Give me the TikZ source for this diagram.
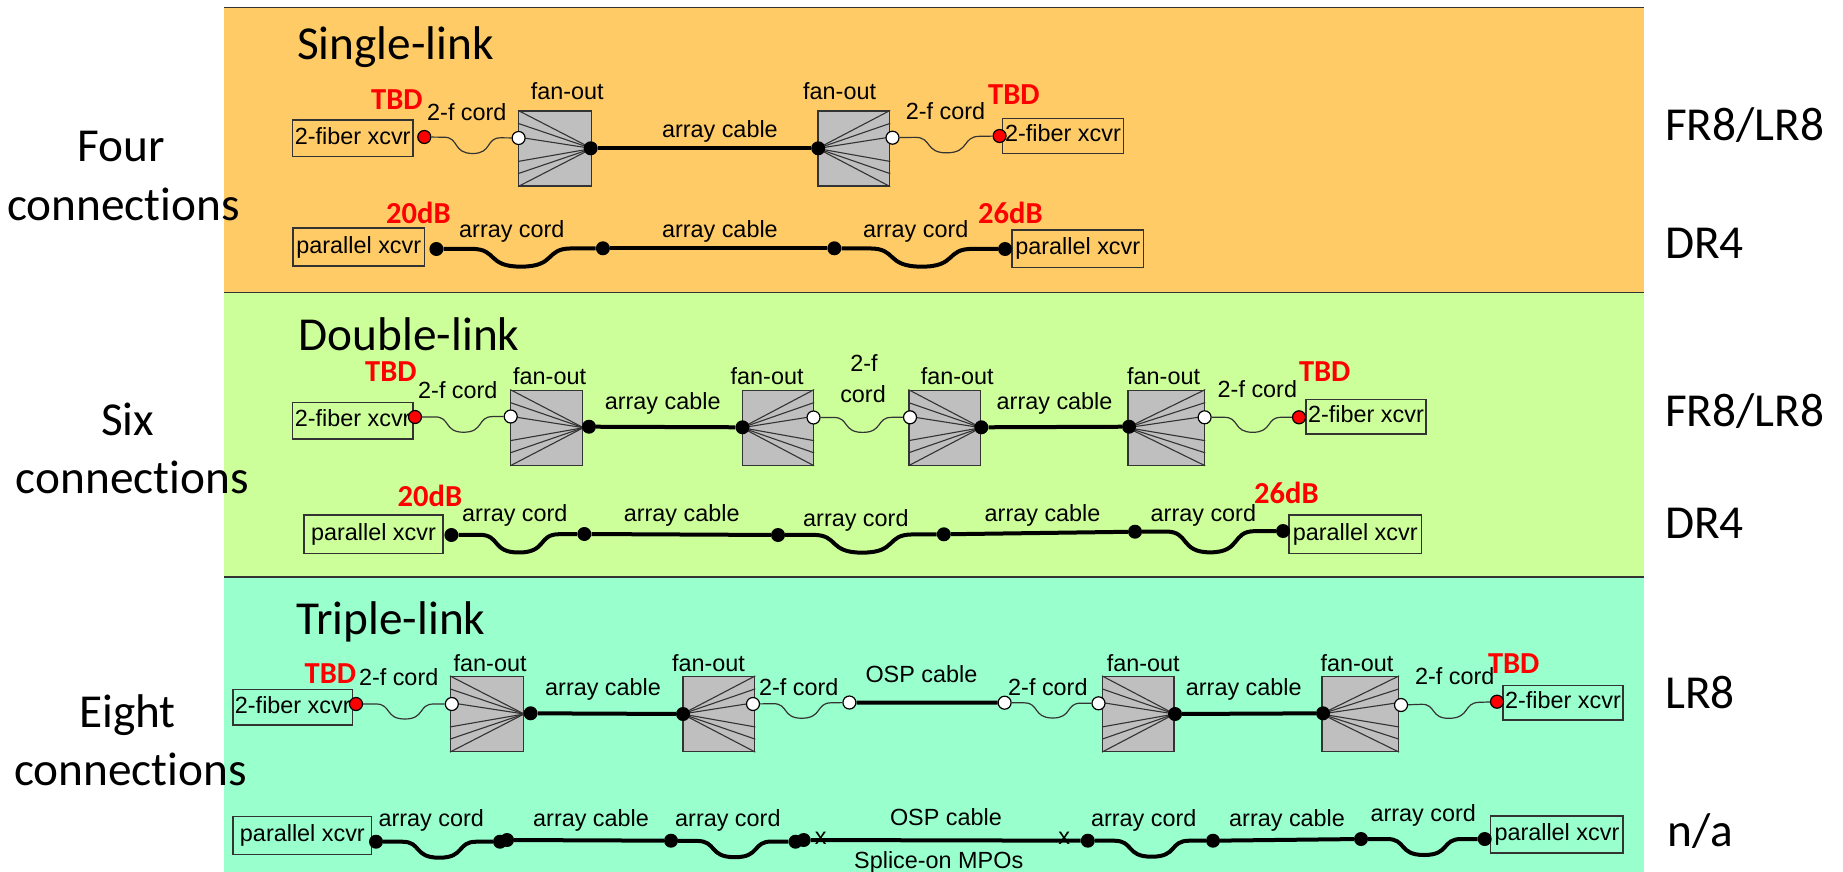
\documentclass[tikz,border=0pt]{standalone}
\usepackage{fontspec}
\setmainfont{Liberation Sans}
\newfontfamily\calib[Ligatures=NoCommon]{Carlito}
\usetikzlibrary{calc}
\definecolor{panelor}{HTML}{FFCB66}
\definecolor{panelgr}{HTML}{CCFF99}
\definecolor{panelte}{HTML}{99FFCC}
\definecolor{edgegrey}{HTML}{333333}
\definecolor{fangrey}{HTML}{BFBFBF}
\newcommand{\spokesE}[1]{\foreach \f in {0,.17,.35,.67,.83,1}
  \draw[spoke] ($(#1.north west)!\f!(#1.south west)$) -- (#1.east);}
\newcommand{\spokesW}[1]{\foreach \f in {0,.17,.35,.67,.83,1}
  \draw[spoke] ($(#1.north east)!\f!(#1.south east)$) -- (#1.west);}
\newcommand{\dipcord}[4][fibre]{\draw[#1] (#2) -- ($(#2)!.21!(#3)$)
  .. controls ($(#2)!.37!(#3)$) and ($(#2)!.30!(#3)+(0,#4)$) .. ($(#2)!.51!(#3)+(0,#4)$)
  .. controls ($(#2)!.72!(#3)+(0,#4)$) and ($(#2)!.65!(#3)$) .. ($(#2)!.81!(#3)$) -- (#3);}

\begin{document}
\begin{tikzpicture}[
  x=1pt, y=-1pt,
  big/.style={font=\calib\fontsize{47.3}{56}\selectfont, inner sep=0pt, anchor=base west},
  lbl/.style={font=\fontsize{23.4}{28}\selectfont, inner sep=0pt, anchor=base west},
  red/.style={font=\calib\bfseries\fontsize{30.5}{36}\selectfont, text=red, inner sep=0pt, anchor=base west},
  xcvr/.style={draw=edgegrey, line width=1.2pt, inner sep=0pt, font=\fontsize{23.4}{28}\selectfont,
               text height=17pt, text depth=5pt},
  fanbox/.style={draw=edgegrey, line width=1.2pt, fill=fangrey, minimum height=75pt, inner sep=0pt},
  spoke/.style={edgegrey, line width=1.1pt},
  bdot/.style={circle, fill=black, minimum size=14pt, inner sep=0pt},
  wdot/.style={circle, draw=black, line width=1.2pt, fill=white, minimum size=13pt, inner sep=0pt},
  rdot/.style={circle, draw=black, line width=1.2pt, fill=red, minimum size=13pt, inner sep=0pt},
  fibre/.style={edgegrey, line width=1.2pt},
  cable/.style={black, line width=4pt},
]
\useasboundingbox (0,0) rectangle (1843,872);

%% ---- Panels ----
\fill[panelor] (224,8) rectangle (1644,292);
\fill[panelgr] (224,292) rectangle (1644,577);
\fill[panelte] (224,577) rectangle (1644,872);
\draw[edgegrey, line width=1.5pt] (224,7.5) -- (1644,7.5);
\draw[edgegrey, line width=1.5pt] (224,292.5) -- (1644,292.5);
\draw[edgegrey, line width=1.5pt] (224,577) -- (1644,577);

%% ---- Left and right columns ----
\node[big] (four) at (77,161.7) {Four};
\node[big] (fourc) at (7,220) {connections};
\node[big] (six) at (101,435) {Six};
\node[big] (sixc) at (15.7,493) {connections};
\node[big] (eight) at (79,727) {Eight};
\node[big] (eightc) at (14,785) {connections};
\node[big] (sFR) at (1665,140) {FR8/LR8};
\node[big] (sDR) at (1665,258.3) {DR4};
\node[big] (dFR) at (1665,426) {FR8/LR8};
\node[big] (dDR) at (1665,538) {DR4};
\node[big] (tLR) at (1665,708) {LR8};
\node[big] (tNA) at (1667.7,846.7) {n/a};

%% ---- Single-link ----
\node[big] (sTitle) at (297,60) {Single-link};
\node[xcvr, minimum width=120.4pt, minimum height=36.7pt] (sAxL) at (352.7,138.3) {2-fiber xcvr};
\node[xcvr, minimum width=121.1pt, minimum height=35pt] (sAxR) at (1063,135.8) {2-fiber xcvr};
\node[fanbox, minimum width=72.8pt] (sAf1) at (555,148.5) {};
\node[fanbox, minimum width=71.6pt] (sAf2) at (853.8,148.5) {};
\spokesE{sAf1} \spokesW{sAf2}
\node[rdot] (sAr1) at (424.3,137) {};
\node[wdot] (sAw1) at (518.6,138) {};
\node[bdot] (sAb1) at (590.7,148.3) {};
\node[bdot] (sAb2) at (818.2,148.3) {};
\node[wdot] (sAw2) at (892.5,137.7) {};
\node[rdot] (sAr2) at (999.6,136) {};
\dipcord{sAr1}{sAw1}{16}
\draw[cable] (sAb1) -- (sAb2);
\dipcord{sAw2}{sAr2}{16}
\node[red] (sAt1) at (371,109.3) {TBD};
\node[red] (sAt2) at (988,105) {TBD};
\node[lbl] (sAc1) at (427,120.7) {2-f cord};
\node[lbl] (sAo1) at (530.7,100) {fan-out};
\node[lbl] (sAa1) at (661.8,137) {array cable};
\node[lbl] (sAo2) at (803,100) {fan-out};
\node[lbl] (sAc2) at (905.7,120) {2-f cord};

\node[xcvr, minimum width=131.6pt, minimum height=38pt] (sBxL) at (358.8,247) {parallel xcvr};
\node[xcvr, minimum width=131.6pt, minimum height=37.7pt] (sBxR) at (1077.8,248.8) {parallel xcvr};
\node[bdot] (sBb1) at (436.4,249) {};
\node[bdot] (sBb2) at (602.9,248.3) {};
\node[bdot] (sBb3) at (834.3,248.3) {};
\node[bdot] (sBb4) at (1005,249) {};
\dipcord[cable]{sBb1}{sBb2}{18}
\draw[cable] (sBb2) -- (sBb3);
\dipcord[cable]{sBb3}{sBb4}{18}
\node[red] (sBt1) at (386,223) {20dB};
\node[red] (sBt2) at (978,223) {26dB};
\node[lbl] (sBc1) at (459,237) {array cord};
\node[lbl] (sBa1) at (661.8,237) {array cable};
\node[lbl] (sBc2) at (862.9,237) {array cord};

%% ---- Double-link ----
\node[big] (dTitle) at (298.6,350) {Double-link};
\node[xcvr, minimum width=120.4pt, minimum height=36.3pt] (dAxL) at (352.7,420.8) {2-fiber xcvr};
\node[xcvr, minimum width=120pt, minimum height=34.7pt] (dAxR) at (1366,416.7) {2-fiber xcvr};
\node[fanbox, minimum width=72pt] (dAf1) at (546.8,427.7) {};
\node[fanbox, minimum width=71pt] (dAf2) at (778,427.7) {};
\node[fanbox, minimum width=71.4pt] (dAf3) at (944.7,427.7) {};
\node[fanbox, minimum width=76.6pt] (dAf4) at (1166.3,427.7) {};
\spokesE{dAf1} \spokesW{dAf2} \spokesE{dAf3} \spokesW{dAf4}
\node[rdot] (dAr1) at (415,417) {};
\node[wdot] (dAw1) at (510.7,416.5) {};
\node[bdot] (dAb1) at (589,426.7) {};
\node[bdot] (dAb2) at (742.5,427.3) {};
\node[wdot] (dAw2) at (813.5,417.5) {};
\node[wdot] (dAw3) at (910,417.3) {};
\node[bdot] (dAb3) at (981.3,427.3) {};
\node[bdot] (dAb4) at (1129,426.7) {};
\node[wdot] (dAw4) at (1204.6,417.3) {};
\node[rdot] (dAr2) at (1299,417.3) {};
\dipcord{dAr1}{dAw1}{15.5}
\draw[cable] (dAb1) -- (dAb2);
\dipcord{dAw2}{dAw3}{15}
\draw[cable] (dAb3) -- (dAb4);
\dipcord{dAw4}{dAr2}{15}
\node[red] (dAt1) at (365,381.7) {TBD};
\node[red] (dAt2) at (1298.8,381.7) {TBD};
\node[lbl] (dAc1) at (418,398.3) {2-f cord};
\node[lbl] (dAo1) at (513,384.3) {fan-out};
\node[lbl] (dAa1) at (604.6,409.3) {array cable};
\node[lbl] (dAo2) at (730.5,384.3) {fan-out};
\node[lbl, anchor=base] (dAc2) at (864,371.7) {2-f};
\node[lbl, anchor=base] (dAc3) at (863,402.7) {cord};
\node[lbl] (dAo3) at (920.6,384.3) {fan-out};
\node[lbl] (dAa2) at (996.5,409.3) {array cable};
\node[lbl] (dAo4) at (1127,384.3) {fan-out};
\node[lbl] (dAc4) at (1217.5,397.3) {2-f cord};

\node[xcvr, minimum width=139pt, minimum height=38.3pt] (dBxL) at (373.5,534.2) {parallel xcvr};
\node[xcvr, minimum width=132.5pt, minimum height=38.3pt] (dBxR) at (1355.2,534.2) {parallel xcvr};
\node[bdot] (dBb1) at (451.4,535) {};
\node[bdot] (dBb2) at (584.3,534) {};
\node[bdot] (dBb3) at (778,535) {};
\node[bdot] (dBb4) at (943.8,534.3) {};
\node[bdot] (dBb5) at (1135,531.7) {};
\node[bdot] (dBb6) at (1283,531) {};
\dipcord[cable]{dBb1}{dBb2}{18}
\draw[cable] (dBb2) -- (dBb3);
\dipcord[cable]{dBb3}{dBb4}{18}
\draw[cable] (dBb4) -- (dBb5);
\dipcord[cable]{dBb5}{dBb6}{21}
\node[red] (dBt1) at (397.5,506.7) {20dB};
\node[red] (dBt2) at (1254,503.3) {26dB};
\node[lbl] (dBc1) at (462,521.7) {array cord};
\node[lbl] (dBa1) at (623.6,521.7) {array cable};
\node[lbl] (dBc2) at (803,526.7) {array cord};
\node[lbl] (dBa2) at (984.5,521.7) {array cable};
\node[lbl] (dBc3) at (1150.5,521.7) {array cord};

%% ---- Triple-link ----
\node[big] (tTitle) at (296,634) {Triple-link};
\node[xcvr, minimum width=119.7pt, minimum height=35.7pt] (tAxL) at (292.8,707.2) {2-fiber xcvr};
\node[xcvr, minimum width=120pt, minimum height=34.3pt] (tAxR) at (1563,702.8) {2-fiber xcvr};
\node[fanbox, minimum width=73pt] (tAf1) at (487,714) {};
\node[fanbox, minimum width=71.8pt] (tAf2) at (718.8,714) {};
\node[fanbox, minimum width=71.4pt] (tAf3) at (1138.3,714) {};
\node[fanbox, minimum width=76.5pt] (tAf4) at (1360.2,714) {};
\spokesE{tAf1} \spokesW{tAf2} \spokesE{tAf3} \spokesW{tAf4}
\node[rdot] (tAr1) at (356,704) {};
\node[wdot] (tAw1) at (451.8,704) {};
\node[bdot] (tAb1) at (530.6,713.3) {};
\node[bdot] (tAb2) at (683,714) {};
\node[wdot] (tAw2) at (753,704) {};
\node[wdot] (tAw3) at (849.4,702.5) {};
\node[wdot] (tAw4) at (1004.6,702.7) {};
\node[wdot] (tAw5) at (1098.5,703.3) {};
\node[bdot] (tAb3) at (1175,714) {};
\node[bdot] (tAb4) at (1323,713.3) {};
\node[wdot] (tAw6) at (1401,705) {};
\node[rdot] (tAr2) at (1497,701.7) {};
\dipcord{tAr1}{tAw1}{15}
\draw[cable] (tAb1) -- (tAb2);
\dipcord{tAw2}{tAw3}{15}
\draw[cable] (tAw3) -- (tAw4);
\dipcord{tAw4}{tAw5}{15}
\draw[cable] (tAb3) -- (tAb4);
\dipcord{tAw6}{tAr2}{15}
\node[red] (tAt1) at (304.5,683.3) {TBD};
\node[red] (tAt2) at (1487.8,673) {TBD};
\node[lbl] (tAc1) at (358.8,685) {2-f cord};
\node[lbl] (tAo1) at (453.5,671) {fan-out};
\node[lbl] (tAa1) at (545,695) {array cable};
\node[lbl] (tAo2) at (671.8,671) {fan-out};
\node[lbl] (tAc2) at (758.8,695) {2-f cord};
\node[lbl] (tAp1) at (865.3,682.7) {OSP cable};
\node[lbl] (tAc3) at (1008,695) {2-f cord};
\node[lbl] (tAo3) at (1106.6,671) {fan-out};
\node[lbl] (tAa2) at (1185.7,695) {array cable};
\node[lbl] (tAo4) at (1320.4,671) {fan-out};
\node[lbl] (tAc4) at (1414.8,684) {2-f cord};

\node[xcvr, minimum width=138.8pt, minimum height=37.6pt] (tBxL) at (302.4,835.5) {parallel xcvr};
\node[xcvr, minimum width=132.2pt, minimum height=37pt] (tBxR) at (1556.9,834.5) {parallel xcvr};
\node[bdot] (tBb1) at (376,841.7) {};
\node[bdot] (tBb2) at (500,841.7) {};
\node[bdot] (tBb3) at (507,840) {};
\node[bdot] (tBb4) at (671,840.7) {};
\node[bdot] (tBb5) at (795.5,841.7) {};
\node[bdot] (tBb6) at (803.7,840) {};
\node[bdot] (tBb7) at (1087.8,840.7) {};
\node[bdot] (tBb8) at (1213,840.7) {};
\node[bdot] (tBb9) at (1361,839) {};
\node[bdot] (tBb10) at (1484.7,839) {};
\dipcord[cable]{tBb1}{tBb2}{16}
\draw[cable] (tBb3) -- (tBb4);
\dipcord[cable]{tBb4}{tBb5}{16}
\draw[cable] (tBb6) -- (tBb7);
\dipcord[cable]{tBb7}{tBb8}{16}
\draw[cable] (tBb8) -- (tBb9);
\dipcord[cable]{tBb9}{tBb10}{16}
\node[lbl, anchor=center] (tBx1) at (820.8,838) {x};
\node[lbl, anchor=center] (tBx2) at (1064.3,838) {x};
\node[lbl] (tBc1) at (378.4,826.7) {array cord};
\node[lbl] (tBa1) at (533,826.7) {array cable};
\node[lbl] (tBc2) at (675,826.7) {array cord};
\node[lbl] (tBp1) at (889.8,825) {OSP cable};
\node[lbl] (tBs1) at (854,868) {Splice-on MPOs};
\node[lbl] (tBc3) at (1090.8,826.7) {array cord};
\node[lbl] (tBa2) at (1229,826) {array cable};
\node[lbl] (tBc4) at (1370.4,821.7) {array cord};

\end{tikzpicture}
\end{document}
